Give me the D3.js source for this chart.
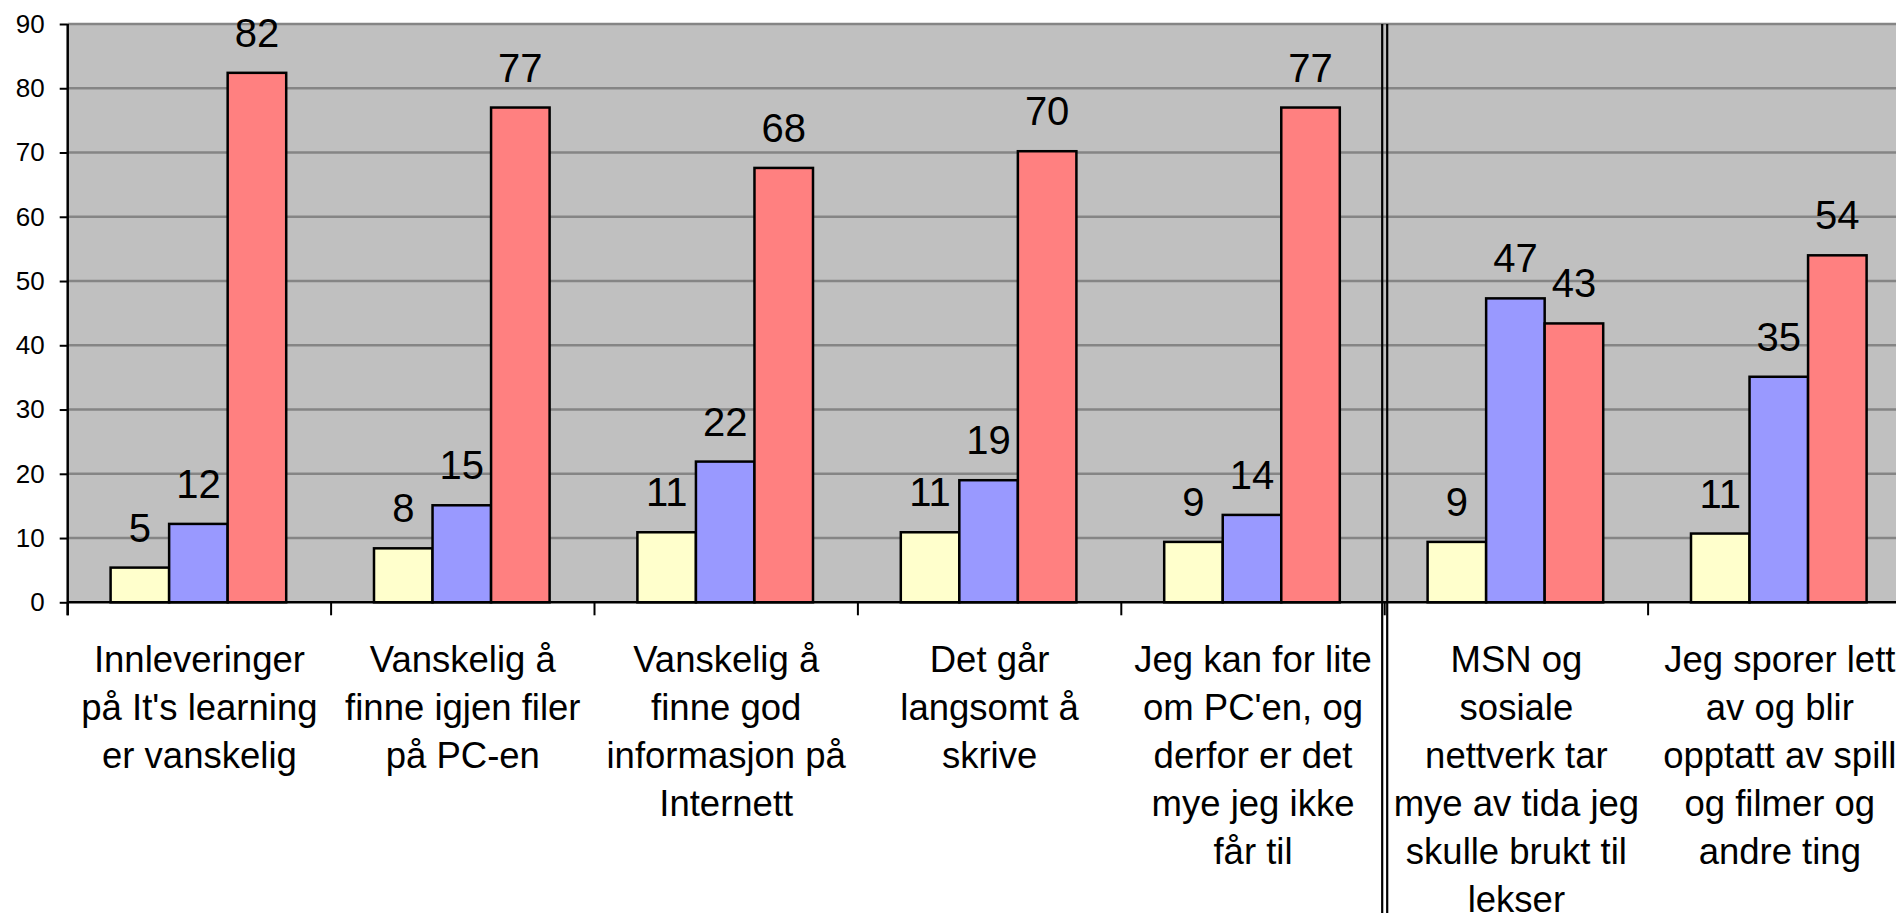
<!DOCTYPE html>
<html>
<head>
<meta charset="utf-8">
<script src="https://cdn.jsdelivr.net/npm/d3@7"></script>
<style>
  html, body { margin: 0; padding: 0; background: #ffffff; overflow: hidden; }
  svg { display: block; font-family: "Liberation Sans", Arial, sans-serif; }
</style>
</head>
<body>
<svg id="chart" width="1896" height="913"></svg>
<script>
// ---------- data ----------
const categories = [
  ["Innleveringer", "på It's learning", "er vanskelig"],
  ["Vanskelig å", "finne igjen filer", "på PC-en"],
  ["Vanskelig å", "finne god", "informasjon på", "Internett"],
  ["Det går", "langsomt å", "skrive"],
  ["Jeg kan for lite", "om PC'en, og", "derfor er det", "mye jeg ikke", "får til"],
  ["MSN og", "sosiale", "nettverk tar", "mye av tida jeg", "skulle brukt til", "lekser"],
  ["Jeg sporer lett", "av og blir", "opptatt av spill", "og filmer og", "andre ting"]
];
const seriesNames = ["Serie 1", "Serie 2", "Serie 3"];
const serie1 = [5.4, 8.4, 10.9, 10.9, 9.4, 9.4, 10.7];
const serie2 = [12.2, 15.1, 21.9, 19.0, 13.6, 47.3, 35.1];
const serie3 = [82.4, 77.0, 67.6, 70.2, 77.0, 43.4, 54.0];
const yTicks = [0, 10, 20, 30, 40, 50, 60, 70, 80, 90];
const dividerAfter = 5; // double line after the 5th category

// ---------- layout ----------
const W = 1896, H = 913;
const plotLeft = 67.7, plotTop = 24, plotBottom = 602.3;
const bandW = 263.4;
const colors = ["#FFFFCC", "#9999FF", "#FF8080"];
const allSeries = [serie1, serie2, serie3];

const svg = d3.select("#chart");
svg.append("rect").attr("width", W).attr("height", H).attr("fill", "#ffffff");

const catIdx = categories.map((d, i) => i);
const x0 = d3.scaleBand().domain(catIdx).range([plotLeft, plotLeft + bandW * categories.length]).paddingInner(0).paddingOuter(0);
const x1 = d3.scaleBand().domain(seriesNames).range([-1, x0.bandwidth() - 1]).paddingInner(0).paddingOuter(0.75);
const y = d3.scaleLinear().domain([0, 90]).range([plotBottom, plotTop]);

// plot area
svg.append("rect")
  .attr("x", plotLeft).attr("y", y(90))
  .attr("width", x0.range()[1] - plotLeft).attr("height", y(0) - y(90))
  .attr("fill", "#C0C0C0");

// gridlines
svg.append("g").selectAll("line").data(yTicks.filter(t => t > 0)).join("line")
  .attr("x1", plotLeft).attr("x2", W + 10)
  .attr("y1", d => y(d)).attr("y2", d => y(d))
  .attr("stroke", "#858585").attr("stroke-width", 2.5);

// bars
const barData = [];
allSeries.forEach((s, si) => s.forEach((v, ci) => barData.push({ci, si, v})));
svg.append("g").selectAll("rect").data(barData).join("rect")
  .attr("x", d => x0(d.ci) + x1(seriesNames[d.si]))
  .attr("width", x1.bandwidth())
  .attr("y", d => y(d.v))
  .attr("height", d => y(0) - y(d.v))
  .attr("fill", d => colors[d.si])
  .attr("stroke", "#000").attr("stroke-width", 2.5);

// value labels
svg.append("g").selectAll("text").data(barData).join("text")
  .attr("x", d => x0(d.ci) + x1(seriesNames[d.si]) + x1.bandwidth() / 2)
  .attr("y", d => y(d.v) - 26)
  .attr("text-anchor", "middle")
  .attr("font-size", 40)
  .attr("fill", "#000")
  .text(d => d3.format(".0f")(d.v));

// y axis
const yAxis = d3.axisLeft(y).tickValues(yTicks).tickSize(8).tickSizeOuter(0).tickPadding(15);
const gy = svg.append("g").attr("transform", `translate(${plotLeft},0)`).call(yAxis);
gy.select(".domain").remove();
gy.selectAll(".tick line").attr("stroke", "#000").attr("stroke-width", 2);
gy.selectAll(".tick text").attr("font-size", 26).attr("fill", "#000")
  .attr("font-family", "'Liberation Sans', Arial, sans-serif");

// x axis line
svg.append("line").attr("x1", plotLeft).attr("x2", W + 10)
  .attr("y1", y(0)).attr("y2", y(0)).attr("stroke", "#000").attr("stroke-width", 2.5);
// y axis line (extends to first category tick)
svg.append("line").attr("x1", plotLeft).attr("x2", plotLeft)
  .attr("y1", y(90)).attr("y2", y(0) + 13).attr("stroke", "#000").attr("stroke-width", 2.5);

// x ticks at category boundaries
const bounds = catIdx.map(i => x0(i)).concat([x0.range()[1]]);
svg.append("g").selectAll("line").data(bounds).join("line")
  .attr("x1", d => d).attr("x2", d => d)
  .attr("y1", y(0)).attr("y2", y(0) + 13)
  .attr("stroke", "#000").attr("stroke-width", 2);

// category labels
const cl = svg.append("g").selectAll("text").data(categories).join("text")
  .attr("text-anchor", "middle")
  .attr("font-size", 36.5)
  .attr("fill", "#000")
  .attr("transform", (d, i) => `translate(${x0(i) + x0.bandwidth() / 2},672)`);
cl.selectAll("tspan").data(d => d).join("tspan")
  .attr("x", 0).attr("y", (d, j) => j * 48)
  .text(d => d);

// double divider line
const dx = x0(dividerAfter);
[-2.5, 2.5].forEach(off => {
  svg.append("line")
    .attr("x1", dx + off).attr("x2", dx + off)
    .attr("y1", y(90)).attr("y2", H)
    .attr("stroke", "#000").attr("stroke-width", 2.2);
});
</script>
</body>
</html>
